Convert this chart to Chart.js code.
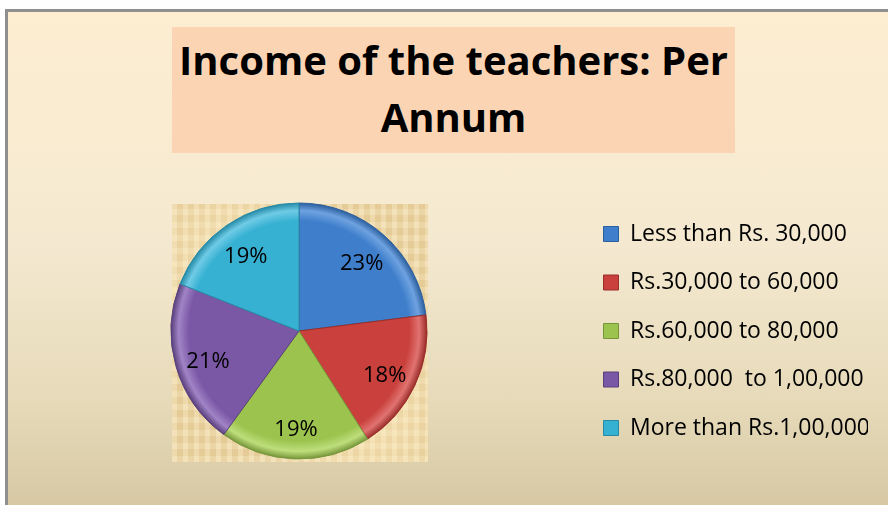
<!DOCTYPE html>
<html>
<head>
<meta charset="utf-8">
<script src="https://cdn.jsdelivr.net/npm/chart.js@4"></script>
<style>
  html, body { margin: 0; padding: 0; background: #fff; }
  body { width: 888px; height: 505px; position: relative; overflow: hidden; }
  #frame {
    position: absolute; left: 5px; top: 9px; width: 900px; height: 520px;
    border-left: 3px solid #8f8f8f; border-top: 3px solid #8f8f8f;
    background: linear-gradient(to bottom, #fdeed2 0%, #f4e9d0 45%, #e6dab9 75%, #d3c49e 100%);
  }
  #titleBox {
    position: absolute; left: 172px; top: 27px; width: 563px; height: 126px;
    background: #fbd4b4;
    font-family: "Open Sans", Lato, sans-serif; font-weight: bold; font-size: 40px;
    line-height: 57px; text-align: center; color: #000;
    padding-top: 4px; box-sizing: border-box;
  }
  #plotBg {
    position: absolute; left: 172px; top: 204px; width: 256px; height: 258px;
    background-color: #ebd3a0;
    background-image:
      radial-gradient(ellipse at 30% 25%, rgba(255,240,200,0.55), rgba(255,240,200,0) 45%),
      radial-gradient(ellipse at 75% 80%, rgba(255,238,195,0.5), rgba(255,238,195,0) 40%),
      repeating-linear-gradient(90deg, rgba(255,246,220,0.25) 0 5px, rgba(200,165,105,0.10) 5px 11px),
      repeating-linear-gradient(0deg, rgba(255,248,225,0.2) 0 6px, rgba(200,165,105,0.08) 6px 13px);
  }
  #chart { position: absolute; left: 0; top: 0; }
</style>
</head>
<body>
<div id="frame"></div>
<div id="titleBox">Income of the teachers: Per<br>Annum</div>
<div id="plotBg"></div>
<canvas id="chart" width="888" height="505"></canvas>
<script>
// --- Data ---
const categories = [
  "Less than Rs. 30,000",
  "Rs.30,000 to 60,000",
  "Rs.60,000 to 80,000",
  "Rs.80,000  to 1,00,000",
  "More than Rs.1,00,000"
];
const shares = [23, 18, 19, 21, 19]; // percent of teachers
const sliceColors = ["#3e7ecb", "#c9403c", "#9cc34e", "#7b58a6", "#37b1d2"];
const sliceLight = ["#6ea2e0", "#e07370", "#bede7c", "#a084c6", "#6fcbe6"];
const sliceEdges = ["#2c5f9e", "#9a2d2a", "#76963a", "#5a3f7d", "#268aa6"];

const pieRadius = 128;

// bevel-ish fill: flat colour with a lighter rim
function sliceFill(c) {
  const area = c.chart.chartArea;
  if (!area) return sliceColors[c.dataIndex];
  const cx = (area.left + area.right) / 2, cy = (area.top + area.bottom) / 2;
  const g = c.chart.ctx.createRadialGradient(cx, cy, 0, cx, cy, pieRadius);
  const i = c.dataIndex;
  g.addColorStop(0, sliceColors[i]);
  g.addColorStop(0.86, sliceColors[i]);
  g.addColorStop(0.94, sliceLight[i]);
  g.addColorStop(1, sliceEdges[i]);
  return g;
}

// --- percent labels inside slices ---
const sliceLabels = {
  id: "sliceLabels",
  afterDatasetsDraw(chart) {
    const ctx = chart.ctx;
    const meta = chart.getDatasetMeta(0);
    ctx.save();
    ctx.font = "22px 'Open Sans', Lato, sans-serif";
    ctx.fillStyle = "#000";
    ctx.textAlign = "center";
    ctx.textBaseline = "middle";
    meta.data.forEach((arc, i) => {
      const p = arc.getProps(["x", "y", "startAngle", "endAngle", "outerRadius"], true);
      const mid = (p.startAngle + p.endAngle) / 2;
      const r = p.outerRadius * 0.74;
      ctx.fillText(shares[i] + "%", p.x + Math.cos(mid) * r, p.y + Math.sin(mid) * r + 4);
    });
    ctx.restore();
  }
};

const ctx = document.getElementById("chart").getContext("2d");
new Chart(ctx, {
  type: "pie",
  data: {
    labels: categories,
    datasets: [{
      data: shares,
      backgroundColor: sliceFill,
      borderColor: sliceEdges,
      borderWidth: 1,
      radius: pieRadius
    }]
  },
  options: {
    responsive: false,
    animation: false,
    layout: { padding: { left: 20, right: 20, top: 171, bottom: 14 } },
    plugins: {
      title: { display: false },
      tooltip: { enabled: false },
      legend: {
        position: "right",
        align: "center",
        maxWidth: 290,
        labels: {
          boxWidth: 15,
          boxHeight: 15,
          padding: 25.5,
          color: "#000",
          font: { family: "'Open Sans', Lato, sans-serif", size: 23 },
          generateLabels(chart) {
            return categories.map((text, i) => ({
              text,
              fillStyle: sliceColors[i],
              strokeStyle: sliceEdges[i],
              lineWidth: 1,
              fontColor: "#000",
              index: i
            }));
          }
        }
      }
    }
  },
  plugins: [sliceLabels]
});
</script>
</body>
</html>
